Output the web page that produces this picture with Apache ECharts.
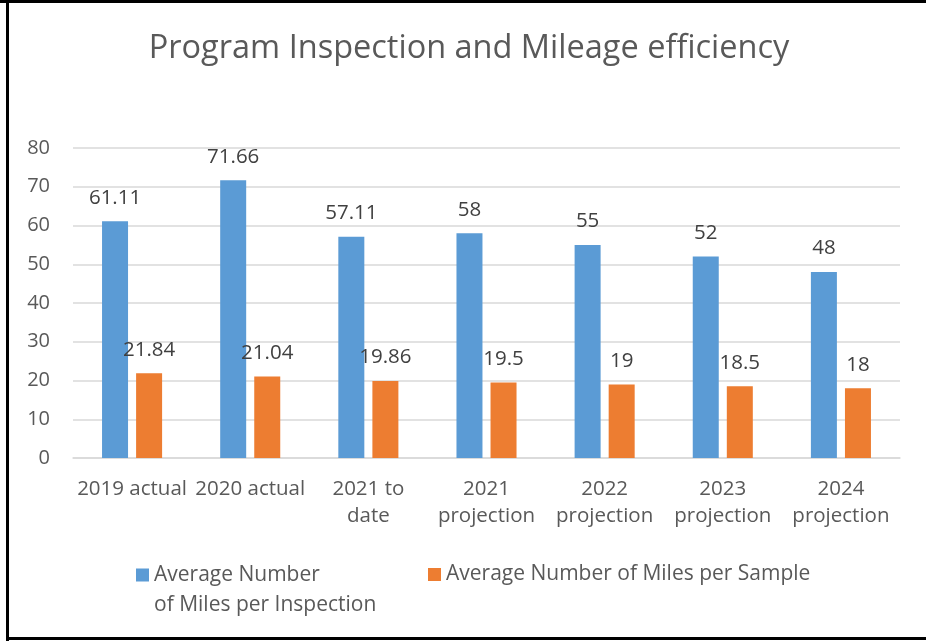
<!DOCTYPE html>
<html>
<head>
<meta charset="utf-8">
<script src="https://cdn.jsdelivr.net/npm/echarts@6/dist/echarts.min.js"></script>
<style>
  html, body { margin: 0; padding: 0; background: #fff; }
  #main { width: 926px; height: 641px; }
</style>
</head>
<body>
<div id="main"></div>
<script>
// data
var categories = ['2019 actual', '2020 actual', '2021 to\ndate', '2021\nprojection', '2022\nprojection', '2023\nprojection', '2024\nprojection'];
var milesPerInspection = [61.11, 71.66, 57.11, 58, 55, 52, 48];
var milesPerSample = [21.84, 21.04, 19.86, 19.5, 19, 18.5, 18];
var seriesNames = ['Average Number\nof Miles per Inspection', 'Average Number of Miles per Sample'];

var font = '"Open Sans", "Liberation Sans", sans-serif';
var myChart = echarts.init(document.getElementById('main'));

var option = {
    backgroundColor: '#fff',
    textStyle: { fontFamily: font },
    title: {
        text: 'Program Inspection and Mileage efficiency',
        left: 464,
        textAlign: 'center',
        top: 27,
        textStyle: { fontFamily: font, fontWeight: 'normal', fontSize: 32.5, color: '#595959' }
    },
    legend: [
        {
            data: [seriesNames[0]],
            left: 136,
            top: 530,
            padding: 0,
            icon: 'rect',
            itemWidth: 13,
            itemHeight: 13,
            // empty first line so the first real line sits beside the marker
            formatter: function (name) { return '\n' + name; },
            textStyle: { fontFamily: font, fontSize: 21, color: '#595959', lineHeight: 30 }
        },
        {
            data: [seriesNames[1]],
            left: 428,
            top: 564,
            padding: 0,
            icon: 'rect',
            itemWidth: 13,
            itemHeight: 13,
            textStyle: { fontFamily: font, fontSize: 21, color: '#595959' }
        }
    ],
    grid: { left: 73, right: 26, top: 148, bottom: 183 },
    xAxis: {
        type: 'category',
        data: categories,
        axisTick: { show: false },
        axisLine: { lineStyle: { color: '#d9d9d9', width: 1.5 } },
        axisLabel: { interval: 0, fontFamily: font, fontSize: 20.5, lineHeight: 27, color: '#595959', margin: 18 }
    },
    yAxis: {
        type: 'value',
        min: 0,
        max: 80,
        interval: 10,
        axisLine: { show: false },
        axisTick: { show: false },
        axisLabel: { fontFamily: font, fontSize: 20, color: '#595959', margin: 23 },
        splitLine: { lineStyle: { color: '#d9d9d9', width: 1.5 } }
    },
    series: [
        {
            name: seriesNames[0],
            type: 'bar',
            data: milesPerInspection,
            barWidth: 26,
            barGap: '31%',
            itemStyle: { color: '#5B9BD5' },
            label: { show: true, position: 'top', distance: 13, fontFamily: font, fontSize: 20.5, color: '#404040' }
        },
        {
            name: seriesNames[1],
            type: 'bar',
            data: milesPerSample,
            barWidth: 26,
            itemStyle: { color: '#ED7D31' },
            label: { show: true, position: 'top', distance: 13, fontFamily: font, fontSize: 20.5, color: '#404040' }
        }
    ],
    graphic: [
        // outer frame of the picture
        { type: 'rect', shape: { x: 0, y: 0, width: 926, height: 3 }, style: { fill: '#000' } },
        { type: 'rect', shape: { x: 6, y: 0, width: 3, height: 641 }, style: { fill: '#000' } },
        { type: 'rect', shape: { x: 6, y: 637, width: 920, height: 3 }, style: { fill: '#000' } }
    ]
};
myChart.setOption(option);
</script>
</body>
</html>
